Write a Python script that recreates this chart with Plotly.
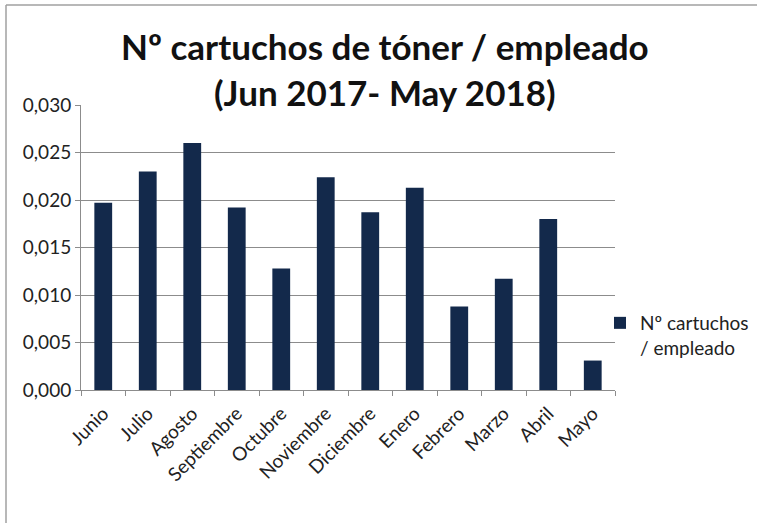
import plotly.graph_objects as go

months = ["Junio", "Julio", "Agosto", "Septiembre", "Octubre", "Noviembre",
          "Diciembre", "Enero", "Febrero", "Marzo", "Abril", "Mayo"]
values = [0.0197, 0.0230, 0.0260, 0.0192, 0.0128, 0.0224,
          0.0187, 0.0213, 0.0088, 0.0117, 0.0180, 0.0031]
y_ticks = [0.000, 0.005, 0.010, 0.015, 0.020, 0.025, 0.030]
series_name = "Nº cartuchos<br>/ empleado"
title_text = "<b>Nº cartuchos de tóner / empleado<br>(Jun 2017- May 2018)</b>"

FONT = "Lato, 'Open Sans', sans-serif"
W, H = 757, 523
L, R, T, B = 81, 142, 105, 133
PW, PH = W - L - R, H - T - B


def px_x(p):
    return (p - L) / PW


def px_y(p):
    return (H - B - p) / PH


fig = go.Figure(go.Bar(
    x=months, y=values, name=series_name,
    marker=dict(color="#13294b", line=dict(width=0)),
    showlegend=True,
))

fig.update_layout(
    width=W, height=H,
    margin=dict(l=L, r=R, t=T, b=B, autoexpand=False),
    paper_bgcolor="white", plot_bgcolor="white",
    separators=",.",
    font=dict(family=FONT, color="#222222"),
    bargap=0.6,
    legend=dict(xref="container", yref="container",
                x=600 / W, xanchor="left", y=1 - 335.5 / H, yanchor="middle",
                valign="top",
                font=dict(family=FONT, size=19, color="#222222"),
                bgcolor="rgba(0,0,0,0)"),
    xaxis=dict(type="category", tickangle=-45, tickfont=dict(size=19, family=FONT),
               showline=True, linecolor="#8c8c8c", linewidth=1,
               ticks="outside", tickson="boundaries", ticklen=5, tickcolor="#8c8c8c",
               ticklabelstandoff=4,
               showgrid=False, fixedrange=True, automargin=False),
    yaxis=dict(range=[0, 0.030], tickvals=y_ticks, tickformat=".3f",
               tickfont=dict(size=19, family=FONT),
               showline=True, linecolor="#8c8c8c", linewidth=1,
               ticks="outside", ticklen=5, tickcolor="#8c8c8c",
               showgrid=True, gridcolor="#8c8c8c", gridwidth=1,
               zeroline=False, fixedrange=True, automargin=False),
    annotations=[dict(text=title_text, xref="paper", yref="paper",
                      x=px_x(385), y=px_y(68.5), xanchor="center", yanchor="middle",
                      showarrow=False, align="center",
                      font=dict(family=FONT, size=35, color="#111111"))],
    shapes=[
        dict(type="line", xref="paper", yref="paper",
             x0=px_x(6), x1=px_x(757), y0=px_y(5), y1=px_y(5),
             line=dict(color="#a0a0a0", width=1.5)),
        dict(type="line", xref="paper", yref="paper",
             x0=px_x(6), x1=px_x(6), y0=px_y(5), y1=px_y(523),
             line=dict(color="#a0a0a0", width=1.5)),
    ],
)

fig.write_html("out.html", config={"displayModeBar": False},
               post_script="document.body.style.margin='0';")
